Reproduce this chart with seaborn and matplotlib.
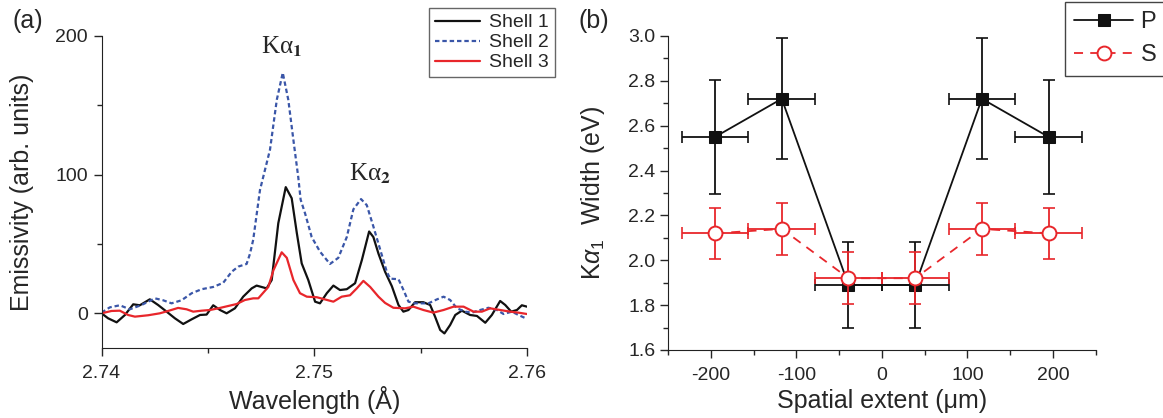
import matplotlib
matplotlib.use('Agg')
import matplotlib.pyplot as plt
import seaborn as sns
import numpy as np
from matplotlib.ticker import MultipleLocator, FormatStrFormatter

# panel (a): emission spectra
wl_shell1 = [2.74000, 2.74031, 2.74071, 2.74110, 2.74149, 2.74180, 2.74227, 2.74266, 2.74306,
             2.74345, 2.74384, 2.74424, 2.74463, 2.74494, 2.74525, 2.74557, 2.74588, 2.74627,
             2.74666, 2.74706, 2.74729, 2.74776, 2.74800, 2.74831, 2.74866, 2.74894, 2.74918,
             2.74941, 2.74972, 2.75004, 2.75027, 2.75059, 2.75090, 2.75121, 2.75153, 2.75192,
             2.75224, 2.75258, 2.75278, 2.75302, 2.75333, 2.75365, 2.75396, 2.75419, 2.75443,
             2.75474, 2.75513, 2.75545, 2.75568, 2.75592, 2.75612, 2.75639, 2.75663, 2.75694,
             2.75733, 2.75765, 2.75804, 2.75835, 2.75874, 2.75898, 2.75926, 2.75953, 2.75976,
             2.76000]
em_shell1 = [0, -3.6, -6.5, -1.2, 6.5, 5.8, 10.1, 6.0, 1.2,
             -3.6, -7.7, -4.3, -1.2, -0.9, 5.8, 2.4, 0, 3.6,
             12, 18, 20, 18, 24, 65, 91, 83, 58,
             36, 24, 8.4, 7.2, 14.5, 20, 16.8, 17.4, 21.7,
             38.5, 59, 55, 43, 30, 19.5, 6, 1.2, 2.4,
             8, 8, 6, -2.4, -12, -14.5, -8.4, -1.2, 1.9,
             -1.2, -1.9, -6.8, -1.2, 8.9, 6, 1.2, 2.4, 5.8,
             4.8]

wl_shell2 = [2.74000, 2.74039, 2.74086, 2.74133, 2.74188, 2.74251, 2.74290, 2.74329, 2.74376,
             2.74424, 2.74471, 2.74525, 2.74572, 2.74612, 2.74643, 2.74682, 2.74698, 2.74713,
             2.74745, 2.74792, 2.74824, 2.74852, 2.74878, 2.74902, 2.74925, 2.74936, 2.74957,
             2.74988, 2.75027, 2.75074, 2.75113, 2.75153, 2.75184, 2.75220, 2.75247, 2.75278,
             2.75310, 2.75341, 2.75357, 2.75396, 2.75419, 2.75443, 2.75474, 2.75537, 2.75576,
             2.75608, 2.75639, 2.75671, 2.75710, 2.75741, 2.75780, 2.75819, 2.75859, 2.75890,
             2.75929, 2.75960, 2.76000]
em_shell2 = [0.5, 4.3, 5.8, 2.9, 6, 10.8, 9.4, 7.2, 9.4,
             14.5, 17.4, 19, 22, 30, 33.7, 35.6, 43, 53,
             89, 118, 154, 173.5, 154, 125, 98, 82, 72,
             55, 44.5, 35.6, 40, 55, 75, 82.4, 78, 62.6,
             46, 30, 25, 24.6, 17, 8.4, 7.2, 7.2, 10,
             12, 9.6, 3.6, 1.2, 0.5, 2.4, 4, 2.4, -0.5,
             1.2, -1.2, -4]

wl_shell3 = [2.74000, 2.74047, 2.74086, 2.74125, 2.74157, 2.74219, 2.74274, 2.74313, 2.74360,
             2.74400, 2.74431, 2.74471, 2.74510, 2.74549, 2.74596, 2.74635, 2.74674, 2.74713,
             2.74737, 2.74784, 2.74808, 2.74847, 2.74871, 2.74902, 2.74933, 2.74965, 2.75012,
             2.75051, 2.75090, 2.75129, 2.75168, 2.75200, 2.75231, 2.75263, 2.75302, 2.75333,
             2.75372, 2.75427, 2.75466, 2.75513, 2.75560, 2.75608, 2.75655, 2.75702, 2.75749,
             2.75788, 2.75827, 2.75874, 2.75921, 2.75960, 2.76000]
em_shell3 = [0, 1.7, 1.9, -1.2, -2.4, -1.4, 0, 1.7, 3.9,
             2.9, 1.2, 1.9, 2.4, 3.6, 5.3, 6.7, 9.6, 10.8,
             10.8, 19, 31, 44, 40, 24, 14.5, 12, 11.6,
             10, 8.4, 12, 13, 18, 23.4, 19, 12, 7.5,
             4, 3.6, 4.8, 2.4, 0.5, 2.4, 4.8, 4.8, 1.2,
             1.2, 3.6, 2.4, 1.2, 0.5, -0.5]

# panel (b): K-alpha1 widths
position = [-195, -117, -39, 39, 117, 195]
position_err = [39, 39, 39, 39, 39, 39]
width_p = [2.55, 2.72, 1.89, 1.89, 2.72, 2.55]
width_p_err = [0.255, 0.27, 0.19, 0.19, 0.27, 0.255]
width_s = [2.12, 2.14, 1.92, 1.92, 2.14, 2.12]
width_s_err = [0.115, 0.117, 0.117, 0.117, 0.117, 0.115]

BLACK = '#111111'
BLUE = '#3a56a8'
RED = '#e8262b'

sns.set_style('ticks')
plt.rcParams['font.family'] = ['Liberation Sans', 'DejaVu Sans']
plt.rcParams['mathtext.fontset'] = 'custom'
plt.rcParams['mathtext.rm'] = 'Liberation Sans'
plt.rcParams['mathtext.it'] = 'Liberation Sans:italic'
plt.rcParams['mathtext.bf'] = 'Liberation Sans:bold'
plt.rcParams['axes.unicode_minus'] = False
plt.rcParams['xtick.direction'] = 'out'
plt.rcParams['ytick.direction'] = 'out'
plt.rcParams['axes.edgecolor'] = '#222222'

fig = plt.figure(figsize=(11.63, 4.18), dpi=100)
ax1 = fig.add_axes([0.0873, 0.1675, 0.3658, 0.7464])
ax2 = fig.add_axes([0.5744, 0.1627, 0.3677, 0.7512])

# ---- panel (a)
sns.lineplot(x=wl_shell1, y=em_shell1, ax=ax1, color=BLACK, lw=1.6, sort=False,
             estimator=None, label='Shell 1')
sns.lineplot(x=wl_shell2, y=em_shell2, ax=ax1, color=BLUE, lw=1.6, sort=False,
             estimator=None, label='Shell 2')
ax1.lines[-1].set_linestyle((0, (2.0, 1.3)))
sns.lineplot(x=wl_shell3, y=em_shell3, ax=ax1, color=RED, lw=1.6, sort=False,
             estimator=None, label='Shell 3')

ax1.set_xlim(2.74, 2.76)
ax1.set_ylim(-25, 200)
ax1.xaxis.set_major_locator(MultipleLocator(0.01))
ax1.xaxis.set_minor_locator(MultipleLocator(0.005))
ax1.xaxis.set_major_formatter(FormatStrFormatter('%.2f'))
ax1.yaxis.set_major_locator(MultipleLocator(100))
ax1.yaxis.set_minor_locator(MultipleLocator(50))
ax1.spines['top'].set_visible(False)
ax1.spines['right'].set_visible(False)
ax1.tick_params(which='major', length=6, width=1, labelsize=14, pad=4)
ax1.tick_params(which='minor', length=3.5, width=1)
ax1.tick_params(axis='x', pad=6)
ax1.set_xlabel('Wavelength (Å)', fontsize=18, va='center')
ax1.set_ylabel('Emissivity (arb. units)', fontsize=18, va='center')
ax1.xaxis.set_label_coords(0.5, -0.167)
ax1.yaxis.set_label_coords(-0.187, 0.5)

ax1.text(2.74848, 192, r'Kα$_{\mathbf{1}}$', fontsize=18, ha='center', va='center',
         family='Liberation Serif', math_fontfamily='stix')
ax1.text(2.75263, 100.5, r'Kα$_{\mathbf{2}}$', fontsize=18, ha='center', va='center',
         family='Liberation Serif', math_fontfamily='stix')

leg1 = ax1.legend(loc='upper left', bbox_to_anchor=(429 / 1163, 1 - 8 / 418),
                  bbox_transform=fig.transFigure, fontsize=14, handlelength=2.3,
                  frameon=True, fancybox=False, framealpha=1, borderaxespad=0,
                  labelspacing=0.12, borderpad=0.3, handletextpad=0.5)
leg1.get_frame().set_edgecolor('#666666')
leg1.get_frame().set_linewidth(1.0)

# ---- panel (b)
ax2.errorbar(position, width_p, xerr=position_err, yerr=width_p_err, fmt='none',
             ecolor=BLACK, elinewidth=1.3, capsize=4, capthick=1.2, zorder=2)
sns.lineplot(x=position, y=width_p, ax=ax2, color=BLACK, lw=1.3, marker='s', markersize=9,
             markerfacecolor=BLACK, markeredgecolor=BLACK, sort=False, estimator=None,
             label='P', zorder=3)
ax2.errorbar(position, width_s, xerr=position_err, yerr=width_s_err, fmt='none',
             ecolor=RED, elinewidth=1.3, capsize=4, capthick=1.2, zorder=4)
sns.lineplot(x=position, y=width_s, ax=ax2, color=RED, lw=1.3, marker='o', markersize=10,
             markerfacecolor='white', markeredgecolor=RED, markeredgewidth=1.4, sort=False,
             estimator=None, label='S', zorder=5)
ax2.lines[-1].set_linestyle((0, (5, 4)))

ax2.set_xlim(-250, 250)
ax2.set_ylim(1.6, 3.0)
ax2.xaxis.set_major_locator(MultipleLocator(100))
ax2.xaxis.set_minor_locator(MultipleLocator(50))
ax2.yaxis.set_major_locator(MultipleLocator(0.2))
ax2.yaxis.set_minor_locator(MultipleLocator(0.1))
ax2.yaxis.set_major_formatter(FormatStrFormatter('%.1f'))
ax2.spines['top'].set_visible(False)
ax2.spines['right'].set_visible(False)
ax2.tick_params(which='major', length=6, width=1, labelsize=14, pad=3)
ax2.tick_params(which='minor', length=3.5, width=1)
ax2.tick_params(axis='x', pad=6)
ax2.set_xlabel('Spatial extent (μm)', fontsize=18, va='center')
ax2.set_ylabel(r'K$\alpha_1$  Width (eV)', fontsize=18, va='center')
ax2.xaxis.set_label_coords(0.5, -0.162)
ax2.yaxis.set_label_coords(-0.175, 0.5)

leg2 = ax2.legend(loc='upper left', bbox_to_anchor=(1065 / 1163, 1 - 2 / 418),
                  bbox_transform=fig.transFigure, fontsize=17, handlelength=2.5,
                  frameon=True, fancybox=False, framealpha=1, borderaxespad=0,
                  labelspacing=0.45, borderpad=0.4, handletextpad=0.3)
leg2.get_frame().set_edgecolor('#444444')
leg2.get_frame().set_linewidth(1.0)

fig.text(12 / 1163, 1 - 21 / 418, '(a)', fontsize=18, va='center', ha='left')
fig.text(579 / 1163, 1 - 21 / 418, '(b)', fontsize=18, va='center', ha='left')

fig.savefig('out.png', dpi=100)
